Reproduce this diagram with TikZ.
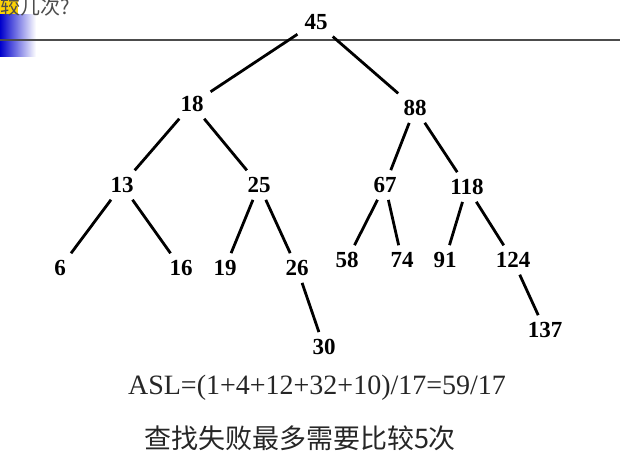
\documentclass[tikz,border=0pt]{standalone}
\usepackage{fontspec}
\setmainfont{Liberation Serif}
\newfontfamily\cjk{Noto Sans CJK SC}
\begin{document}
\begin{tikzpicture}[x=1pt,y=-1pt,
  num/.style={font=\fontsize{23}{24}\selectfont\bfseries, inner sep=6pt},
  edge/.style={line width=2.8pt, shorten <=1pt, shorten >=1pt}]
\useasboundingbox (0,0) rectangle (644,474);
\shade[left color=blue!80!black, right color=white] (0,14) rectangle (36,56);
\fill[yellow!70!orange] (0,0) rectangle (18,14);
\node[anchor=west, font=\cjk\fontsize{20}{21}\selectfont, text=black!70, inner sep=0pt] (title) at (0,7) {较几次?};
\draw[line width=1.5pt, black!70] (0,40) -- (620,40);
\node[num] (n45) at (316,22) {45};
\node[num] (n18) at (192,104) {18};
\node[num] (n88) at (415,108) {88};
\node[num] (n13) at (122,185) {13};
\node[num] (n25) at (259,185) {25};
\node[num] (n67) at (385,185) {67};
\node[num] (n118) at (467,187) {118};
\node[num] (n6) at (60,268) {6};
\node[num] (n16) at (181,268) {16};
\node[num] (n19) at (225,268) {19};
\node[num] (n26) at (297,268) {26};
\node[num] (n58) at (347,260) {58};
\node[num] (n74) at (402,260) {74};
\node[num] (n91) at (445,260) {91};
\node[num] (n124) at (513,260) {124};
\node[num] (n30) at (324,347) {30};
\node[num] (n137) at (545,330) {137};
\foreach \a/\b in {n45/n18,n45/n88,n18/n13,n18/n25,n88/n67,n88/n118,n13/n6,n13/n16,n25/n19,n25/n26,n26/n30,n67/n58,n67/n74,n118/n91,n118/n124,n124/n137}
  \draw[edge] (\a) -- (\b);
\node[font=\fontsize{28}{30}\selectfont, text=black!85] (asl) at (317,388) {ASL=(1+4+12+32+10)/17=59/17};
\node[font=\cjk\fontsize{27}{28}\selectfont, text=black!85] (fail) at (300,438) {查找失败最多需要比较5次};
\end{tikzpicture}
\end{document}
